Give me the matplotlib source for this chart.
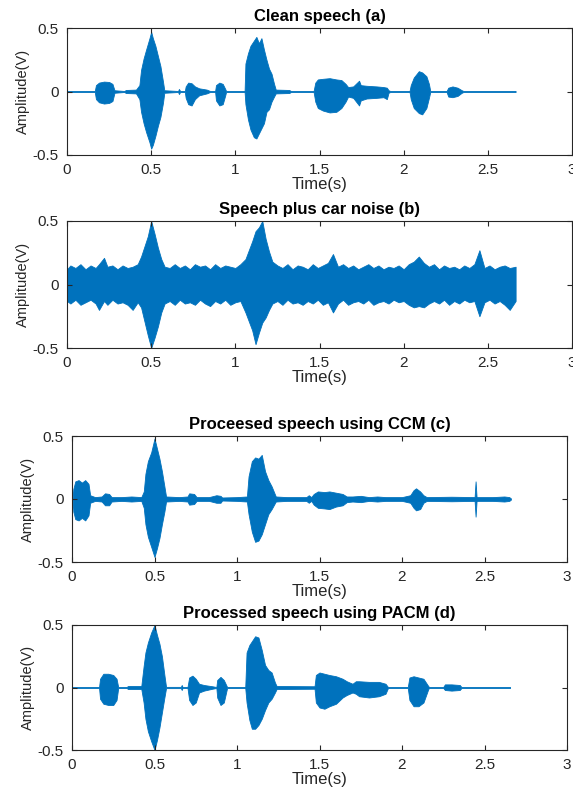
import matplotlib
matplotlib.use("Agg")
import matplotlib.pyplot as plt
import numpy as np

plt.rcParams['font.family'] = ['Liberation Sans', 'DejaVu Sans']

# envelope knots: time (s), upper and lower amplitude (V)
t_a = [0, 0.165, 0.172, 0.19, 0.22, 0.25, 0.27, 0.282, 0.34, 0.35, 0.41, 0.43, 0.44, 0.455, 0.47, 0.49,
       0.50, 0.51, 0.525, 0.54, 0.555, 0.57, 0.578, 0.66, 0.665, 0.672, 0.70, 0.705, 0.72, 0.74, 0.76,
       0.785, 0.83, 0.85, 0.88, 0.885, 0.905, 0.925, 0.94, 0.945, 1.055, 1.06, 1.075, 1.09, 1.11, 1.125,
       1.14, 1.155, 1.17, 1.185, 1.2, 1.215, 1.23, 1.24, 1.32, 1.33, 1.465, 1.475, 1.49, 1.52, 1.56, 1.6,
       1.63, 1.655, 1.67, 1.7, 1.735, 1.745, 1.78, 1.84, 1.88, 1.9, 1.91, 1.92, 2.035, 2.042, 2.06, 2.09,
       2.11, 2.135, 2.15, 2.158, 2.255, 2.265, 2.29, 2.32, 2.345, 2.355, 2.665]
up_a = [0.004, 0.004, 0.05, 0.07, 0.078, 0.075, 0.06, 0.01, 0.004, 0.012, 0.015, 0.05, 0.17, 0.26, 0.33, 0.42,
        0.47, 0.42, 0.36, 0.28, 0.2, 0.08, 0.01, 0.004, 0.02, 0.004, 0.004, 0.04, 0.07, 0.065, 0.04,
        0.025, 0.015, 0.004, 0.004, 0.05, 0.07, 0.06, 0.02, 0.004, 0.004, 0.22, 0.30, 0.36, 0.40, 0.43,
        0.38, 0.42, 0.33, 0.25, 0.18, 0.14, 0.06, 0.015, 0.012, 0.004, 0.004, 0.07, 0.095, 0.10, 0.105, 0.095,
        0.09, 0.06, 0.035, 0.04, 0.085, 0.05, 0.045, 0.04, 0.035, 0.03, 0.01, 0.004, 0.004, 0.05, 0.11, 0.16,
        0.15, 0.12, 0.06, 0.004, 0.004, 0.03, 0.04, 0.03, 0.01, 0.004, 0.004]
lo_a = [-0.004, -0.004, -0.06, -0.085, -0.095, -0.09, -0.075, -0.01, -0.004, -0.012, -0.015, -0.06, -0.16, -0.25, -0.32, -0.40,
        -0.45, -0.42, -0.35, -0.27, -0.2, -0.09, -0.01, -0.004, -0.02, -0.004, -0.004, -0.05, -0.10, -0.11, -0.06,
        -0.03, -0.015, -0.004, -0.004, -0.07, -0.11, -0.10, -0.03, -0.004, -0.004, -0.10, -0.22, -0.30, -0.36, -0.37,
        -0.33, -0.29, -0.25, -0.16, -0.14, -0.08, -0.04, -0.015, -0.012, -0.004, -0.004, -0.08, -0.13, -0.15, -0.165, -0.16,
        -0.13, -0.08, -0.04, -0.05, -0.11, -0.07, -0.055, -0.05, -0.045, -0.06, -0.01, -0.004, -0.004, -0.06, -0.13, -0.17,
        -0.18, -0.13, -0.05, -0.004, -0.004, -0.04, -0.045, -0.035, -0.01, -0.004, -0.004]

t_b = [0, 0.02, 0.05, 0.08, 0.11, 0.14, 0.17, 0.19, 0.22, 0.24, 0.27, 0.30, 0.33, 0.36, 0.39, 0.42,
       0.44, 0.46, 0.48, 0.50, 0.52, 0.54, 0.56, 0.58, 0.61, 0.64, 0.67, 0.70, 0.73, 0.76, 0.79, 0.82,
       0.85, 0.88, 0.91, 0.94, 0.97, 1.00, 1.03, 1.06, 1.08, 1.10, 1.12, 1.14, 1.16, 1.18, 1.20, 1.22,
       1.25, 1.28, 1.31, 1.34, 1.37, 1.40, 1.43, 1.46, 1.49, 1.52, 1.55, 1.58, 1.61, 1.64, 1.67, 1.70,
       1.73, 1.76, 1.79, 1.82, 1.85, 1.88, 1.91, 1.94, 1.97, 2.00, 2.03, 2.06, 2.09, 2.12, 2.15, 2.18,
       2.21, 2.24, 2.27, 2.30, 2.33, 2.36, 2.39, 2.42, 2.45, 2.48, 2.51, 2.54, 2.57, 2.60, 2.63, 2.665]
up_b = [0.12, 0.15, 0.13, 0.16, 0.12, 0.15, 0.13, 0.16, 0.21, 0.14, 0.15, 0.12, 0.15, 0.13, 0.14, 0.16,
        0.22, 0.30, 0.38, 0.50, 0.40, 0.29, 0.20, 0.14, 0.13, 0.16, 0.13, 0.15, 0.12, 0.16, 0.14, 0.15,
        0.12, 0.16, 0.13, 0.15, 0.14, 0.13, 0.16, 0.20, 0.27, 0.34, 0.42, 0.45, 0.50, 0.36, 0.26, 0.18,
        0.15, 0.13, 0.16, 0.12, 0.15, 0.14, 0.12, 0.16, 0.13, 0.15, 0.17, 0.24, 0.14, 0.16, 0.13, 0.15,
        0.12, 0.14, 0.16, 0.13, 0.15, 0.12, 0.14, 0.13, 0.15, 0.12, 0.16, 0.18, 0.22, 0.17, 0.14, 0.16,
        0.12, 0.15, 0.13, 0.14, 0.12, 0.15, 0.13, 0.16, 0.27, 0.13, 0.15, 0.12, 0.14, 0.15, 0.13, 0.14]
lo_b = [-0.13, -0.15, -0.12, -0.16, -0.14, -0.12, -0.15, -0.20, -0.13, -0.16, -0.12, -0.15, -0.14, -0.16, -0.20, -0.14,
        -0.18, -0.29, -0.40, -0.50, -0.42, -0.33, -0.22, -0.15, -0.13, -0.16, -0.12, -0.15, -0.14, -0.16, -0.12, -0.15,
        -0.17, -0.13, -0.15, -0.12, -0.16, -0.14, -0.13, -0.22, -0.29, -0.36, -0.47, -0.38, -0.30, -0.26, -0.20, -0.15,
        -0.13, -0.16, -0.12, -0.15, -0.14, -0.16, -0.13, -0.15, -0.12, -0.16, -0.14, -0.22, -0.15, -0.12, -0.16, -0.14,
        -0.13, -0.15, -0.12, -0.16, -0.14, -0.13, -0.15, -0.12, -0.14, -0.13, -0.16, -0.18, -0.17, -0.18, -0.15, -0.13,
        -0.15, -0.12, -0.16, -0.13, -0.15, -0.12, -0.14, -0.13, -0.25, -0.14, -0.12, -0.15, -0.13, -0.16, -0.20, -0.13]

t_c = [0, 0.004, 0.008, 0.02, 0.04, 0.06, 0.08, 0.10, 0.11, 0.14, 0.18, 0.2, 0.225, 0.24, 0.3, 0.36,
       0.42, 0.435, 0.445, 0.46, 0.48, 0.50, 0.515, 0.53, 0.545, 0.56, 0.57, 0.65, 0.70, 0.71, 0.74, 0.755,
       0.83, 0.875, 0.9, 0.91, 1.0, 1.06, 1.07, 1.09, 1.11, 1.13, 1.15, 1.17, 1.19, 1.21, 1.235, 1.3,
       1.42, 1.435, 1.45, 1.465, 1.49, 1.53, 1.56, 1.6, 1.64, 1.665, 1.7, 1.75, 1.8, 1.85, 1.9, 2.0,
       2.05, 2.07, 2.085, 2.11, 2.13, 2.15, 2.3, 2.44, 2.446, 2.452, 2.55, 2.62, 2.65, 2.66]
up_c = [0.004, 0.004, 0.08, 0.14, 0.15, 0.13, 0.15, 0.12, 0.03, 0.015, 0.02, 0.045, 0.04, 0.015, 0.015, 0.02,
        0.015, 0.06, 0.2, 0.30, 0.37, 0.48, 0.40, 0.32, 0.22, 0.1, 0.02, 0.015, 0.02, 0.045, 0.04, 0.015,
        0.015, 0.03, 0.025, 0.012, 0.015, 0.02, 0.18, 0.30, 0.33, 0.32, 0.35, 0.22, 0.15, 0.1, 0.02, 0.015,
        0.015, 0.03, 0.015, 0.04, 0.06, 0.055, 0.06, 0.05, 0.04, 0.02, 0.02, 0.025, 0.015, 0.02, 0.015, 0.015,
        0.03, 0.07, 0.085, 0.06, 0.03, 0.015, 0.018, 0.015, 0.14, 0.015, 0.015, 0.02, 0.015, 0.005]
lo_c = [-0.004, -0.004, -0.1, -0.16, -0.17, -0.15, -0.17, -0.13, -0.03, -0.015, -0.02, -0.05, -0.05, -0.02, -0.015, -0.02,
        -0.015, -0.07, -0.2, -0.30, -0.38, -0.46, -0.39, -0.31, -0.2, -0.1, -0.02, -0.015, -0.02, -0.045, -0.04, -0.015,
        -0.015, -0.03, -0.03, -0.012, -0.015, -0.02, -0.12, -0.26, -0.34, -0.33, -0.28, -0.2, -0.12, -0.08, -0.02, -0.015,
        -0.015, -0.03, -0.015, -0.045, -0.07, -0.075, -0.08, -0.06, -0.05, -0.025, -0.02, -0.025, -0.015, -0.02, -0.015, -0.015,
        -0.03, -0.07, -0.09, -0.08, -0.03, -0.015, -0.018, -0.015, -0.14, -0.015, -0.015, -0.02, -0.015, -0.005]

t_d = [0, 0.164, 0.17, 0.19, 0.22, 0.25, 0.27, 0.28, 0.33, 0.34, 0.42, 0.434, 0.445, 0.46, 0.48, 0.50,
       0.515, 0.53, 0.545, 0.56, 0.57, 0.66, 0.665, 0.67, 0.70, 0.71, 0.73, 0.75, 0.77, 0.8, 0.85, 0.875,
       0.88, 0.9, 0.92, 0.94, 1.05, 1.058, 1.075, 1.09, 1.11, 1.13, 1.15, 1.17, 1.19, 1.21, 1.23, 1.24,
       1.47, 1.478, 1.5, 1.53, 1.56, 1.6, 1.64, 1.665, 1.7, 1.72, 1.74, 1.8, 1.86, 1.9, 1.915, 2.035,
       2.045, 2.07, 2.1, 2.13, 2.16, 2.165, 2.25, 2.26, 2.3, 2.35, 2.36, 2.655]
up_d = [0.004, 0.004, 0.07, 0.11, 0.11, 0.10, 0.07, 0.004, 0.004, 0.012, 0.012, 0.17, 0.28, 0.36, 0.44, 0.50,
        0.42, 0.35, 0.25, 0.1, 0.005, 0.005, 0.02, 0.004, 0.004, 0.08, 0.095, 0.07, 0.03, 0.02, 0.01, 0.004,
        0.06, 0.085, 0.06, 0.004, 0.004, 0.28, 0.34, 0.37, 0.41, 0.40, 0.3, 0.18, 0.14, 0.12, 0.04, 0.012,
        0.01, 0.1, 0.12, 0.11, 0.1, 0.09, 0.07, 0.05, 0.03, 0.05, 0.05, 0.045, 0.045, 0.03, 0.004, 0.004,
        0.08, 0.09, 0.08, 0.07, 0.01, 0.004, 0.004, 0.025, 0.025, 0.02, 0.004, 0.004]
lo_d = [-0.004, -0.004, -0.09, -0.13, -0.14, -0.14, -0.1, -0.004, -0.004, -0.012, -0.012, -0.12, -0.25, -0.35, -0.43, -0.50,
        -0.42, -0.32, -0.2, -0.08, -0.005, -0.005, -0.02, -0.004, -0.004, -0.1, -0.14, -0.12, -0.04, -0.025, -0.01, -0.004,
        -0.08, -0.14, -0.12, -0.004, -0.004, -0.12, -0.26, -0.33, -0.33, -0.30, -0.25, -0.18, -0.12, -0.09, -0.04, -0.012,
        -0.01, -0.12, -0.16, -0.17, -0.15, -0.13, -0.08, -0.06, -0.04, -0.05, -0.07, -0.08, -0.07, -0.05, -0.004, -0.004,
        -0.1, -0.15, -0.15, -0.12, -0.01, -0.004, -0.004, -0.02, -0.025, -0.02, -0.004, -0.004]

titles = ['Clean speech (a)', 'Speech plus car noise (b)',
          'Proceesed speech using CCM (c)', 'Processed speech using PACM (d)']
xticks = [0, 0.5, 1, 1.5, 2, 2.5, 3]
xticklabels = ['0', '0.5', '1', '1.5', '2', '2.5', '3']
yticks = [-0.5, 0, 0.5]
yticklabels = ['-0.5', '0', '0.5']

W, H = 573, 789
# axes boxes in pixels: left, top, right, bottom
boxes = [(67, 28, 572, 155), (67, 221, 572, 348), (72, 436, 567, 562), (72, 625, 567, 750)]
series = [(t_a, up_a, lo_a), (t_b, up_b, lo_b), (t_c, up_c, lo_c), (t_d, up_d, lo_d)]

fig = plt.figure(figsize=(W / 100, H / 100), dpi=100)
blue = '#0072BD'
grey = '#262626'

for (l, t, r, b), (tt, up, lo), title in zip(boxes, series, titles):
    ax = fig.add_axes([l / W, 1 - b / H, (r - l) / W, (b - t) / H])
    ax.fill_between(tt, lo, up, color=blue, linewidth=0.6, edgecolor=blue)
    ax.set_xlim(0, 3)
    ax.set_ylim(-0.5, 0.5)
    ax.set_xticks(xticks, xticklabels)
    ax.set_yticks(yticks, yticklabels)
    ax.tick_params(direction='in', length=3.5, width=0.8, top=True, right=True,
                   labelsize=11, colors=grey, pad=6)
    for sp in ax.spines.values():
        sp.set_color(grey)
        sp.set_linewidth(0.8)
    ax.set_title(title, fontsize=12, fontweight='bold', pad=5)
    ax.set_xlabel('Time(s)', fontsize=12, color=grey, labelpad=0)
    ax.set_ylabel('Amplitude(V)', fontsize=10.5, color=grey, labelpad=2)

fig.savefig('out.png', dpi=100)
